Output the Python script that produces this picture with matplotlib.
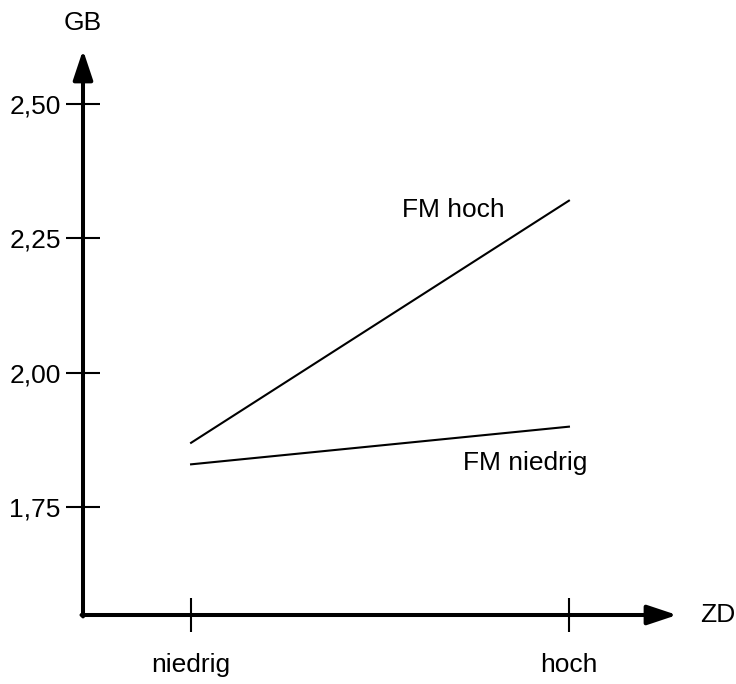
import matplotlib.pyplot as plt

plt.rcParams['font.family'] = ['Liberation Sans', 'DejaVu Sans']

# data
zd_levels = ['niedrig', 'hoch']
zd_pos = [0, 1]
fm_hoch = [1.87, 2.32]
fm_niedrig = [1.83, 1.90]
y_ticks = [1.75, 2.00, 2.25, 2.50]
y_labels = ['1,75', '2,00', '2,25', '2,50']

fs = 19

fig = plt.figure(figsize=(7.36, 6.84), dpi=100)
ax = fig.add_axes([83 / 736, 69 / 684, 594 / 736, 565 / 684])
ax.set_xlim(-0.286, 1.286)
ax.set_ylim(1.55, 2.60)

for s in ax.spines.values():
    s.set_visible(False)

# axis arrows
arrow = dict(arrowstyle='-|>,head_length=1.8,head_width=0.6', lw=2.9,
             color='black', mutation_scale=10, shrinkA=0, shrinkB=0)
ax.annotate('', xy=(1, 0), xytext=(-0.0025, 0), xycoords='axes fraction', arrowprops=arrow)
ax.annotate('', xy=(0, 1), xytext=(0, -0.0025), xycoords='axes fraction', arrowprops=arrow)

# lines
ax.plot(zd_pos, fm_hoch, color='black', lw=1.5)
ax.plot(zd_pos, fm_niedrig, color='black', lw=1.5)
ax.text(0.693, 2.303, 'FM hoch', fontsize=fs, ha='center', va='center')
ax.text(0.885, 1.832, 'FM niedrig', fontsize=fs, ha='center', va='center')

# ticks
ax.set_xticks(zd_pos)
ax.set_xticklabels(zd_levels, fontsize=fs)
ax.set_yticks(y_ticks)
ax.set_yticklabels(y_labels, fontsize=fs)
ax.tick_params(axis='x', direction='inout', length=24.5, width=1.5, pad=15)
ax.tick_params(axis='y', direction='inout', length=24, width=1.5, pad=4)

ax.text(-0.286, 2.65, 'GB', fontsize=fs, ha='center', va='center', clip_on=False)
ax.text(1.347, 1.55, 'ZD', fontsize=fs, ha='left', va='center', clip_on=False)

fig.savefig('out.png', dpi=100)
